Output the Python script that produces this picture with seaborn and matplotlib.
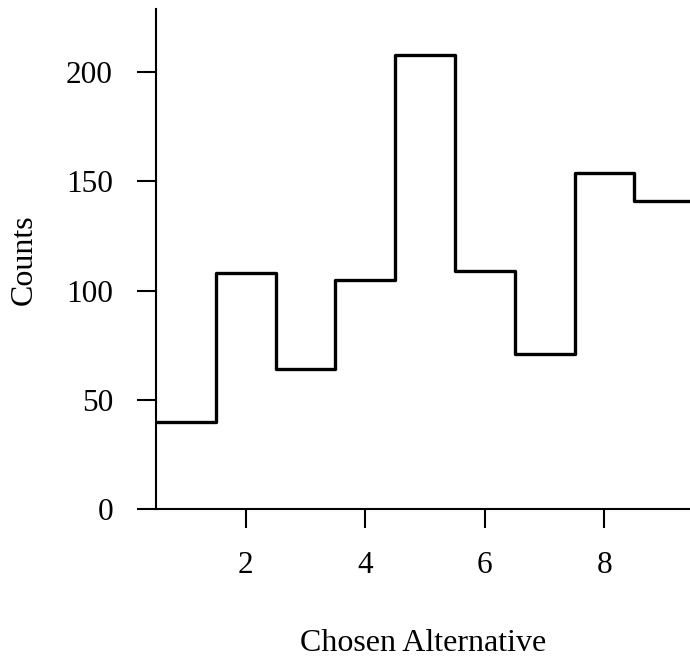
import matplotlib
matplotlib.use("Agg")
import matplotlib.pyplot as plt
import seaborn as sns
import pandas as pd

# Number of times each alternative was chosen
alternatives = [1, 2, 3, 4, 5, 6, 7, 8, 9]
counts = [40, 108, 64, 105, 208, 109, 71, 154, 141]

sns.set_theme(style="ticks")
plt.rcParams["font.family"] = ["Liberation Serif", "DejaVu Serif"]

df = pd.DataFrame({"alternative": alternatives, "count": counts})

fig = plt.figure(figsize=(6.9, 6.57), dpi=100)
ax = fig.add_axes([156 / 690, (657 - 509.3) / 657, 1 - 156 / 690, 500 / 657])

sns.histplot(data=df, x="alternative", weights="count", discrete=True,
             element="step", fill=False, color="black", linewidth=2.4, ax=ax)

ax.set_xlim(0.5, 9.43)
ax.set_ylim(0, 228.7)
ax.set_xticks([2, 4, 6, 8])
ax.set_yticks([0, 50, 100, 150, 200])

for side in ("top", "right"):
    ax.spines[side].set_visible(False)
for side in ("left", "bottom"):
    ax.spines[side].set_linewidth(1.5)
    ax.spines[side].set_color("black")

ax.tick_params(axis="both", direction="out", length=14, width=1.5,
               colors="black", labelsize=22.5, pad=16)
ax.tick_params(axis="y", pad=17)

ax.set_xlabel("Chosen Alternative", fontsize=23, labelpad=35, color="black")
ax.set_ylabel("Counts", fontsize=23, labelpad=20, color="black")

fig.savefig("out.png", dpi=100)
